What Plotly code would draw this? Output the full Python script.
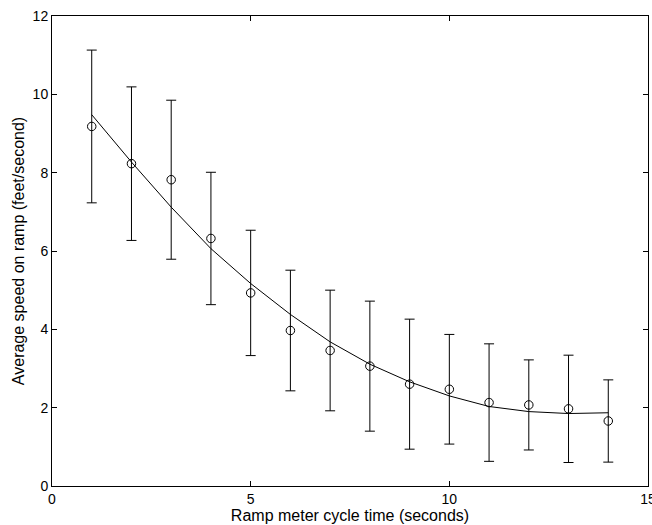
import plotly.graph_objects as go

# Ramp meter cycle time (s) and measured average speed on ramp (ft/s)
cycle_time = [1, 2, 3, 4, 5, 6, 7, 8, 9, 10, 11, 12, 13, 14]
mean_speed = [9.18, 8.23, 7.82, 6.32, 4.93, 3.97, 3.46, 3.06, 2.60, 2.47, 2.13, 2.07, 1.97, 1.66]
speed_err = [1.95, 1.96, 2.03, 1.69, 1.60, 1.54, 1.54, 1.66, 1.66, 1.40, 1.50, 1.15, 1.37, 1.05]
# Fitted trend evaluated at each cycle time
fit_speed = [9.48, 8.27, 7.12, 6.06, 5.17, 4.38, 3.68, 3.11, 2.66, 2.30, 2.03, 1.90, 1.85, 1.87]

x_ticks = [0, 5, 10, 15]
y_ticks = [0, 2, 4, 6, 8, 10, 12]

fig = go.Figure()

fig.add_trace(go.Scatter(
    x=cycle_time, y=mean_speed, mode="markers",
    marker=dict(symbol="circle-open", size=8.5, color="black", line=dict(width=1, color="black")),
    error_y=dict(type="data", array=speed_err, visible=True, color="black", thickness=1, width=5),
    showlegend=False,
))

fig.add_trace(go.Scatter(
    x=cycle_time, y=fit_speed, mode="lines",
    line=dict(color="black", width=1),
    showlegend=False,
))

tick_font = dict(family="Liberation Sans, Arial, sans-serif", size=14, color="black")
title_font = dict(family="Liberation Sans, Arial, sans-serif", size=16, color="black")

axis_common = dict(
    showgrid=False, zeroline=False, showline=True, linecolor="black", linewidth=1,
    mirror="ticks", ticks="inside", ticklen=5, tickcolor="black", tickwidth=1,
    tickfont=tick_font, ticklabeloverflow="allow", automargin=False,
)

fig.update_layout(
    width=652, height=525,
    margin=dict(l=52, r=4, t=16, b=39, pad=0),
    paper_bgcolor="white", plot_bgcolor="white",
    font=tick_font,
    xaxis=dict(
        range=[0, 15], tickvals=x_ticks, ticktext=[str(v) for v in x_ticks],
        title=dict(text="Ramp meter cycle time (seconds)", font=title_font, standoff=0),
        **axis_common,
    ),
    yaxis=dict(
        range=[0, 12], tickvals=y_ticks, ticktext=[str(v) for v in y_ticks],
        title=dict(text="Average speed on ramp (feet/second)", font=title_font, standoff=4),
        **axis_common,
    ),
)

fig.write_html("out.html")
